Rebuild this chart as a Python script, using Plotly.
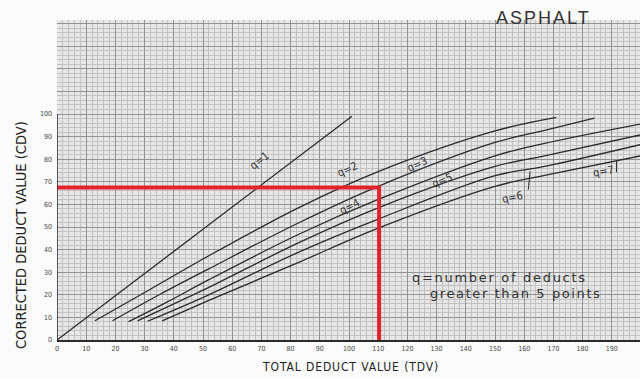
import plotly.graph_objects as go

# ---------------- data ----------------
tdv_ticks = list(range(0, 200, 10))
cdv_ticks = list(range(0, 150, 10))
cdv_tick_labels = [str(v) if v <= 100 else "" for v in cdv_ticks]

q_names = ["q=1", "q=2", "q=3", "q=4", "q=5", "q=6", "q=7"]

q1_tdv = [0, 101]
q1_cdv = [0, 99]

q2_tdv = [13, 30, 52, 83, 110, 150, 171]
q2_cdv = [8.5, 21, 37.3, 58.7, 74.5, 92.5, 98.5]

q3_tdv = [19, 35, 52, 83, 110, 150, 167, 184]
q3_cdv = [8.5, 20, 31.5, 52, 68, 87.4, 92.8, 98.2]

q4_tdv = [24.5, 38, 52, 83, 110, 150, 167, 200]
q4_cdv = [8.1, 17, 26.7, 46.9, 62.2, 81.5, 87, 95.6]

q5_tdv = [27.6, 40, 52, 83, 110, 150, 167, 200]
q5_cdv = [8.5, 16, 23.3, 43.2, 58.5, 76.8, 81.5, 90.8]

q6_tdv = [31, 52, 83, 110, 150, 167, 200]
q6_cdv = [8.3, 20, 39, 53.5, 72.7, 76.8, 86.5]

q7_tdv = [36, 52, 83, 110, 150, 167, 200]
q7_cdv = [8.5, 17.5, 34.5, 49.5, 68, 72.8, 81.5]

example_tdv = 110.3
example_cdv = 67.5

# curve label positions (TDV, CDV) and rotation
label_tdv = [69.5, 99.5, 123.5, 100.3, 132, 156, 187]
label_cdv = [79.5, 75.5, 77.5, 59.2, 70.4, 63, 74.6]
label_angle = [-38, -25, -24, -27, -22, -12, -10]

curves = [
    (q1_tdv, q1_cdv), (q2_tdv, q2_cdv), (q3_tdv, q3_cdv), (q4_tdv, q4_cdv),
    (q5_tdv, q5_cdv), (q6_tdv, q6_cdv), (q7_tdv, q7_cdv),
]

# ---------------- figure ----------------
W, H = 640, 379
ML, MR, MT, MB = 57, 0, 20, 39
PW, PH = W - ML - MR, H - MT - MB
x_max = PW / 2.92
y_max = PH / 2.26

ink = "#2a2a2a"
fig = go.Figure()

for (xs, ys), name in zip(curves, q_names):
    fig.add_trace(go.Scatter(
        x=xs, y=ys, mode="lines", name=name,
        line=dict(color=ink, width=1.3, shape="spline", smoothing=1.0),
        hoverinfo="skip", showlegend=False,
    ))

# red example reading
fig.add_trace(go.Scatter(
    x=[0, example_tdv, example_tdv], y=[example_cdv, example_cdv, 0],
    mode="lines", line=dict(color="#e3232c", width=4),
    hoverinfo="skip", showlegend=False,
))

cond = "DejaVu Sans Condensed, DejaVu Sans"
annotations = []
for t, xv, yv, ang in zip(q_names, label_tdv, label_cdv, label_angle):
    annotations.append(dict(
        x=xv, y=yv, xref="x", yref="y", text=t, showarrow=False,
        xanchor="center", yanchor="middle",
        textangle=ang, font=dict(family=cond, size=11, color="#333"),
    ))

def px_to_paper(px, py):
    return (px - ML) / PW, (H - MB - py) / PH

def spaced(txt, sp):
    return '<span style="letter-spacing:%spx">%s</span>' % (sp, txt)

xp, yp = px_to_paper(21, 235)
annotations.append(dict(x=xp, y=yp, xref="paper", yref="paper",
    xanchor="center", yanchor="middle",
    text="CORRECTED DEDUCT VALUE (CDV)", showarrow=False, textangle=-90,
    font=dict(family=cond, size=14.5, color="#222")))
xp, yp = px_to_paper(350, 367)
annotations.append(dict(x=xp, y=yp, xref="paper", yref="paper",
    xanchor="center", yanchor="middle",
    text=spaced("TOTAL DEDUCT VALUE (TDV)", 0.9), showarrow=False,
    font=dict(family=cond, size=12, color="#222")))
xp, yp = px_to_paper(543, 18)
annotations.append(dict(x=xp, y=yp, xref="paper", yref="paper",
    xanchor="center", yanchor="middle",
    text=spaced("ASPHALT", 2), showarrow=False,
    font=dict(family="Liberation Sans, Arial", size=18, color="#333")))
xp, yp = px_to_paper(410, 277)
annotations.append(dict(x=xp, y=yp, xref="paper", yref="paper",
    xanchor="left", yanchor="middle",
    text=spaced("q=number of deducts", 1.7), showarrow=False,
    font=dict(family="DejaVu Sans", size=13, color="#333")))
xp, yp = px_to_paper(428, 293)
annotations.append(dict(x=xp, y=yp, xref="paper", yref="paper",
    xanchor="left", yanchor="middle",
    text=spaced("greater than 5 points", 1.6), showarrow=False,
    font=dict(family="DejaVu Sans", size=13, color="#333")))

shapes = [
    # y axis line (only up to 100)
    dict(type="line", xref="x", yref="y", x0=0, x1=0, y0=0, y1=100,
         line=dict(color=ink, width=1.5)),
    # leader for q=6
    dict(type="line", xref="x", yref="y", x0=161.4, x1=162, y0=66.5, y1=74.6,
         line=dict(color=ink, width=1)),
    # leader for q=7
    dict(type="line", xref="x", yref="y", x0=191.6, x1=191.6, y0=74.2, y1=79.2,
         line=dict(color=ink, width=1)),
]

tick_font = dict(family=cond, size=7, color="#444")

fig.update_layout(
    width=W, height=H,
    margin=dict(l=ML, r=MR, t=MT, b=MB),
    paper_bgcolor="#fbfbfb",
    plot_bgcolor="#e6e6e6",
    annotations=annotations,
    shapes=shapes,
    xaxis=dict(
        range=[0, x_max], tickmode="array", tickvals=tdv_ticks,
        ticktext=[str(v) for v in tdv_ticks], tickfont=tick_font,
        showgrid=True, gridcolor="#939393", gridwidth=1,
        minor=dict(dtick=2, showgrid=True, gridcolor="#c2c2c2", gridwidth=1),
        showline=True, linecolor=ink, linewidth=1.5,
        ticks="", zeroline=False, ticklabelstandoff=1,
        fixedrange=True,
    ),
    yaxis=dict(
        range=[0, y_max], tickmode="array", tickvals=cdv_ticks,
        ticktext=cdv_tick_labels, tickfont=tick_font,
        showgrid=True, gridcolor="#939393", gridwidth=1,
        minor=dict(dtick=2, showgrid=True, gridcolor="#c2c2c2", gridwidth=1),
        showline=False, ticks="", zeroline=False, ticklabelstandoff=4,
        fixedrange=True,
    ),
)

fig.write_html(
    "out.html",
    config={"displayModeBar": False},
    post_script="document.body.style.margin='0';document.body.style.overflow='hidden';",
)
